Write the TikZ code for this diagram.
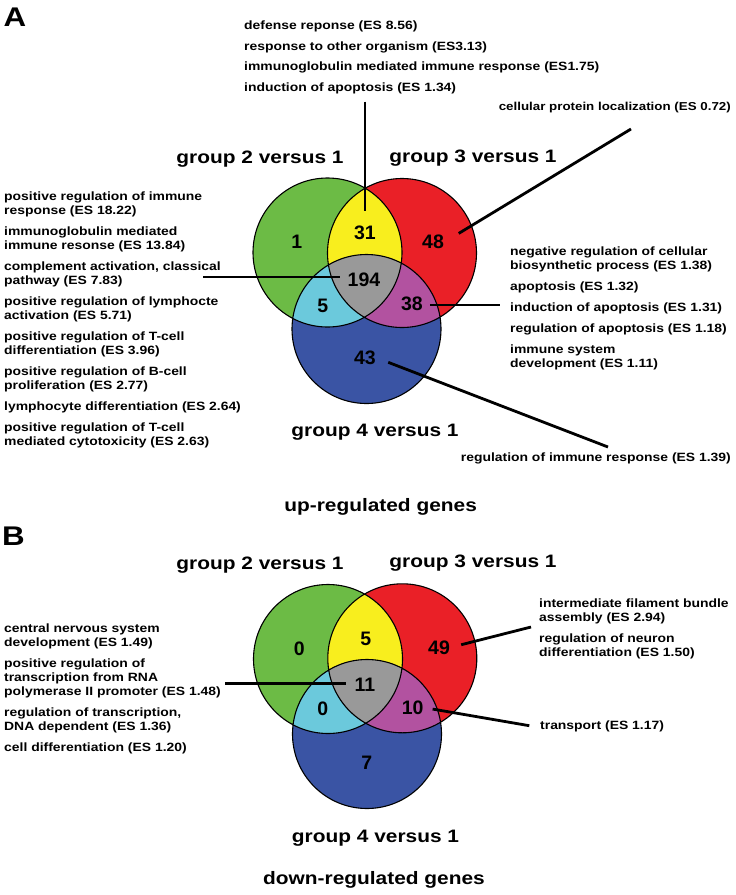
\documentclass[tikz,border=0pt]{standalone}
\usepackage{fontspec}
\setmainfont{Liberation Sans}[FakeStretch=1.16]
\newfontfamily\numfont{Liberation Sans}
\definecolor{vgreen}{RGB}{108,187,69}
\definecolor{vyellow}{RGB}{248,238,30}
\definecolor{vred}{RGB}{234,32,39}
\definecolor{vgray}{RGB}{153,153,153}
\definecolor{vcyan}{RGB}{107,201,220}
\definecolor{vmagenta}{RGB}{178,82,160}
\definecolor{vblue}{RGB}{58,84,164}
\newcommand{\vennr}{74.5pt}

\begin{document}
\begin{tikzpicture}[x=1pt, y=-1pt,
    goterm/.style={font=\fontsize{12}{14}\selectfont\bfseries, align=left, inner sep=0pt},
    grouplabel/.style={font=\fontsize{18}{20}\selectfont\bfseries, inner sep=0pt},
    count/.style={font=\numfont\bfseries\fontsize{19.5}{20}\selectfont, inner sep=1pt},
    panel/.style={font=\fontsize{27}{30}\selectfont\bfseries, inner sep=0pt},
    ring/.style={draw=black, line width=1.1pt},
    leader/.style={draw=black, line width=2.8pt}]
    \useasboundingbox (0,0) rectangle (736,895);
    % ===== A: up-regulated genes =====
    \node[panel] (panA) at (15,17) {A};
    \coordinate (gA) at (327.5,252.5);
    \coordinate (rA) at (402,253);
    \coordinate (bA) at (366.5,329);
    \fill[vgreen] (gA) circle (\vennr);
    \fill[vred] (rA) circle (\vennr);
    \fill[vblue] (bA) circle (\vennr);
    \begin{scope}
      \clip (gA) circle (\vennr);
      \fill[vyellow] (rA) circle (\vennr);
      \fill[vcyan] (bA) circle (\vennr);
    \end{scope}
    \begin{scope}
      \clip (rA) circle (\vennr);
      \fill[vmagenta] (bA) circle (\vennr);
    \end{scope}
    \begin{scope}
      \clip (gA) circle (\vennr);
      \clip (rA) circle (\vennr);
      \fill[vgray] (bA) circle (\vennr);
    \end{scope}
    \draw[ring] (gA) circle (\vennr) (rA) circle (\vennr) (bA) circle (\vennr);
    % --- counts ---
    \node[count] (nA1) at (296.7,241.7) {1};
    \node[count] (nA31) at (365,232.7) {31};
    \node[count] (nA48) at (433,241.7) {48};
    \node[count] (nA194) at (364,280) {194};
    \node[count] (nA5) at (322.7,306) {5};
    \node[count] (nA38) at (412,304) {38};
    \node[count] (nA43) at (365,358) {43};
    % --- group labels ---
    \node[grouplabel] (gA2) at (260,159.5) {group 2 versus 1};
    \node[grouplabel] (gA3) at (473,158) {group 3 versus 1};
    \node[grouplabel] (gA4) at (375,432) {group 4 versus 1};
    \node[grouplabel] (capA) at (380.6,507) {up-regulated genes};
    % --- GO terms ---
    \node[goterm, anchor=north west] (tA31) at (244,20.5)
      {defense reponse (ES 8.56)\\[6.7pt]
       response to other organism (ES3.13)\\[6.7pt]
       immunoglobulin mediated immune response (ES1.75)\\[6.7pt]
       induction of apoptosis (ES 1.34)};
    \node[goterm, anchor=north west] (tA194) at (4,191.8)
      {positive regulation of immune\\ response (ES 18.22)\\[7pt]
       immunoglobulin mediated\\ immune resonse (ES 13.84)\\[7pt]
       complement activation, classical\\ pathway (ES 7.83)\\[7pt]
       positive regulation of lymphocte\\ activation (ES 5.71)\\[7pt]
       positive regulation of T-cell\\ differentiation (ES 3.96)\\[7pt]
       positive regulation of B-cell\\ proliferation (ES 2.77)\\[7pt]
       lymphocyte differentiation (ES 2.64)\\[7pt]
       positive regulation of T-cell\\ mediated cytotoxicity (ES 2.63)};
    \node[goterm, anchor=north west] (tA38) at (510,246.5)
      {negative regulation of cellular\\ biosynthetic process (ES 1.38)\\[7pt]
       apoptosis (ES 1.32)\\[7pt]
       induction of apoptosis (ES 1.31)\\[7pt]
       regulation of apoptosis (ES 1.18)\\[7pt]
       immune system\\ development (ES 1.11)};
    \node[goterm, anchor=east, font=\fontsize{11.5}{14}\selectfont\bfseries] (tA48) at (731,107.5)
      {cellular protein localization (ES 0.72)};
    \node[goterm, anchor=east] (tA43) at (731,458.5) {regulation of immune response (ES 1.39)};
    % --- leader lines ---
    \coordinate (cA31) at (365,101.7);
    \coordinate (cA194) at (203,277);
    \coordinate (cA48) at (631,129);
    \coordinate (cA38) at (500,305);
    \coordinate (cA43) at (608,447);
    \draw[leader, shorten >=14pt] (cA31) -- (nA31.north);
    \draw[leader, shorten >=6.7pt] (cA194) -- (cA194 -| nA194.west);
    \draw[leader, shorten <=16pt] (nA48.east) -- (cA48);
    \draw[leader, shorten <=6pt] (cA38 -| nA38.east) -- (cA38);
    \draw[leader, shorten <=12pt] (nA43.east) -- (cA43);

    % ===== B: down-regulated genes =====
    \node[panel] (panB) at (13.5,536.5) {B};
    \coordinate (gB) at (328,659);
    \coordinate (rB) at (402.3,658.3);
    \coordinate (bB) at (367,734);
    \fill[vgreen] (gB) circle (\vennr);
    \fill[vred] (rB) circle (\vennr);
    \fill[vblue] (bB) circle (\vennr);
    \begin{scope}
      \clip (gB) circle (\vennr);
      \fill[vyellow] (rB) circle (\vennr);
      \fill[vcyan] (bB) circle (\vennr);
    \end{scope}
    \begin{scope}
      \clip (rB) circle (\vennr);
      \fill[vmagenta] (bB) circle (\vennr);
    \end{scope}
    \begin{scope}
      \clip (gB) circle (\vennr);
      \clip (rB) circle (\vennr);
      \fill[vgray] (bB) circle (\vennr);
    \end{scope}
    \draw[ring] (gB) circle (\vennr) (rB) circle (\vennr) (bB) circle (\vennr);
    % --- counts ---
    \node[count] (nB0a) at (299.3,648.3) {0};
    \node[count] (nB5) at (365.7,639.3) {5};
    \node[count] (nB49) at (439,647.3) {49};
    \node[count] (nB11) at (365,685) {11};
    \node[count] (nB0b) at (322.7,708.3) {0};
    \node[count] (nB10) at (412.7,707.7) {10};
    \node[count] (nB7) at (366.7,762.7) {7};
    % --- group labels ---
    \node[grouplabel] (gB2) at (260,565) {group 2 versus 1};
    \node[grouplabel] (gB3) at (473,563.3) {group 3 versus 1};
    \node[grouplabel] (gB4) at (375.5,838.3) {group 4 versus 1};
    \node[grouplabel] (capB) at (374,880) {down-regulated genes};
    % --- GO terms ---
    \node[goterm, anchor=north west] (tB11) at (4,624)
      {central nervous system\\ development (ES 1.49)\\[7pt]
       positive regulation of\\ transcription from RNA\\ polymerase II promoter (ES 1.48)\\[7pt]
       regulation of transcription,\\ DNA dependent (ES 1.36)\\[7pt]
       cell differentiation (ES 1.20)};
    \node[goterm, anchor=north west] (tB49) at (539,599)
      {intermediate filament bundle\\ assembly (ES 2.94)\\[7pt]
       regulation of neuron\\ differentiation (ES 1.50)};
    \node[goterm, anchor=west] (tB10) at (540,726.5) {transport (ES 1.17)};
    % --- leader lines ---
    \coordinate (cB11) at (225,683.3);
    \coordinate (cB49) at (531,627);
    \coordinate (cB10) at (529.3,725.7);
    \draw[leader, shorten >=7pt] (cB11) -- (cB11 -| nB11.west);
    \draw[leader, shorten <=10.5pt] (nB49.east) -- (cB49);
    \draw[leader, shorten <=8pt] (nB10.east) -- (cB10);
\end{tikzpicture}
\end{document}
